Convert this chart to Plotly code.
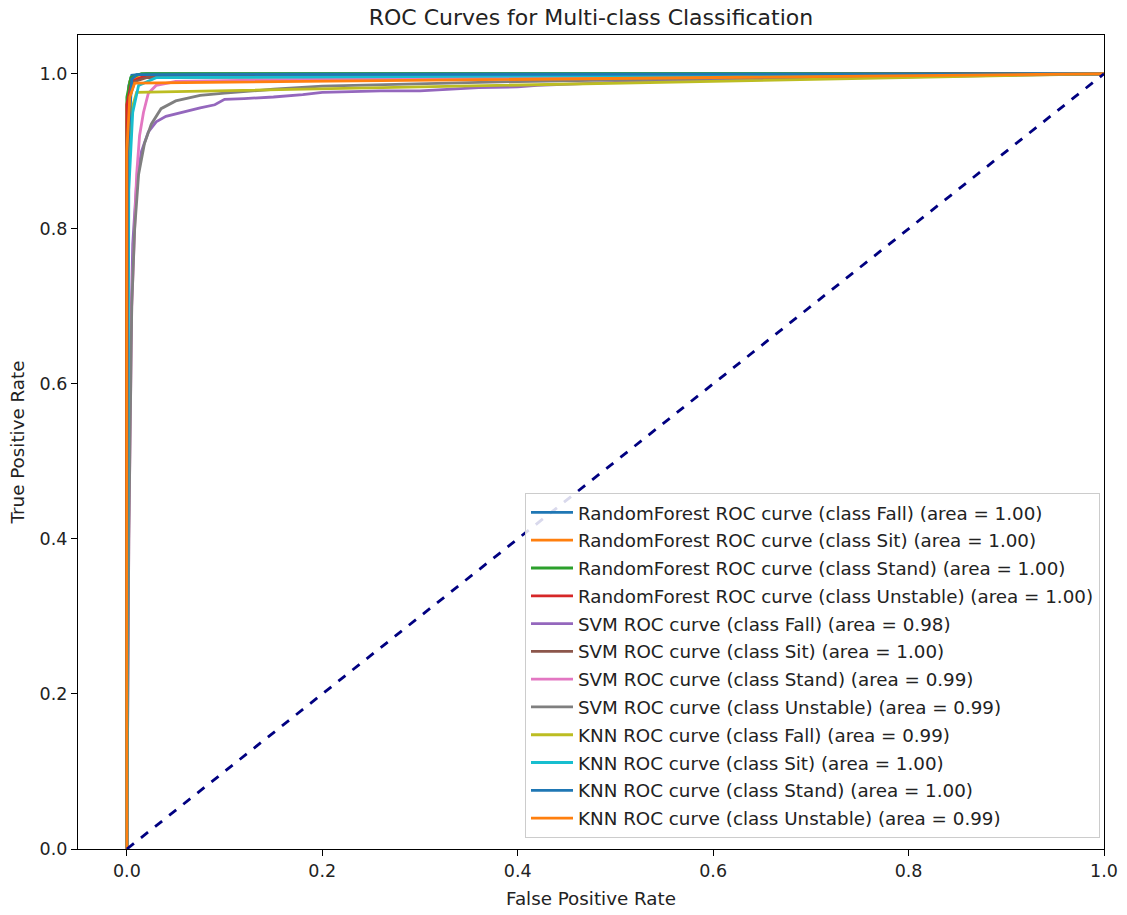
import plotly.graph_objects as go

# ---- data ----
labels = [
    "RandomForest ROC curve (class Fall) (area = 1.00)",
    "RandomForest ROC curve (class Sit) (area = 1.00)",
    "RandomForest ROC curve (class Stand) (area = 1.00)",
    "RandomForest ROC curve (class Unstable) (area = 1.00)",
    "SVM ROC curve (class Fall) (area = 0.98)",
    "SVM ROC curve (class Sit) (area = 1.00)",
    "SVM ROC curve (class Stand) (area = 0.99)",
    "SVM ROC curve (class Unstable) (area = 0.99)",
    "KNN ROC curve (class Fall) (area = 0.99)",
    "KNN ROC curve (class Sit) (area = 1.00)",
    "KNN ROC curve (class Stand) (area = 1.00)",
    "KNN ROC curve (class Unstable) (area = 0.99)",
]

rf_fall_fpr = [0, 0, 0.002, 0.005, 0.02, 1]
rf_fall_tpr = [0, 0.93, 0.985, 0.998, 1.0, 1]
rf_sit_fpr = [0, 0, 0.003, 0.01, 0.43, 1]
rf_sit_tpr = [0, 0.96, 0.99, 0.995, 0.997, 1]
rf_stand_fpr = [0, 0, 0.004, 0.015, 1]
rf_stand_tpr = [0, 0.97, 0.995, 1.0, 1]
rf_unst_fpr = [0, 0, 0.005, 0.02, 1]
rf_unst_tpr = [0, 0.96, 0.99, 0.998, 1]

svm_fall_fpr = [0, 0.001, 0.003, 0.006, 0.01, 0.015, 0.022, 0.03, 0.04, 0.05, 0.06,
                0.075, 0.09, 0.1, 0.12, 0.15, 0.18, 0.2, 0.23, 0.26, 0.3, 0.33, 0.36,
                0.4, 0.42, 0.5, 0.6, 0.8, 1]
svm_fall_tpr = [0, 0.3, 0.6, 0.78, 0.86, 0.9, 0.925, 0.938, 0.945, 0.948, 0.952,
                0.956, 0.96, 0.967, 0.968, 0.97, 0.973, 0.976, 0.977, 0.978, 0.978, 0.98,
                0.982, 0.983, 0.985, 0.989, 0.992, 0.996, 1]
svm_sit_fpr = [0, 0.001, 0.003, 0.008, 0.02, 0.1, 1]
svm_sit_tpr = [0, 0.9, 0.97, 0.99, 0.995, 0.997, 1]
svm_stand_fpr = [0, 0.002, 0.005, 0.008, 0.01, 0.013, 0.017, 0.022, 0.03, 0.05, 0.2, 1]
svm_stand_tpr = [0, 0.4, 0.7, 0.8, 0.87, 0.92, 0.95, 0.975, 0.985, 0.99, 0.993, 1]
svm_unst_fpr = [0, 0.002, 0.005, 0.008, 0.012, 0.018, 0.025, 0.035, 0.05, 0.075, 0.1,
                0.15, 0.2, 0.3, 0.4, 0.6, 1]
svm_unst_tpr = [0, 0.4, 0.7, 0.8, 0.87, 0.91, 0.935, 0.955, 0.965, 0.972, 0.975,
                0.98, 0.984, 0.987, 0.99, 0.994, 1]

knn_fall_fpr = [0, 0.001, 0.004, 0.01, 1]
knn_fall_tpr = [0, 0.85, 0.95, 0.976, 1]
knn_sit_fpr = [0, 0.002, 0.006, 0.012, 0.03, 1]
knn_sit_tpr = [0, 0.85, 0.95, 0.985, 0.995, 1]
knn_stand_fpr = [0, 0.001, 0.005, 0.01, 1]
knn_stand_tpr = [0, 0.9, 0.993, 0.999, 1]
knn_unst_fpr = [0, 0, 0.003, 0.008, 1]
knn_unst_tpr = [0, 0.9, 0.97, 0.988, 1]

fprs = [rf_fall_fpr, rf_sit_fpr, rf_stand_fpr, rf_unst_fpr,
        svm_fall_fpr, svm_sit_fpr, svm_stand_fpr, svm_unst_fpr,
        knn_fall_fpr, knn_sit_fpr, knn_stand_fpr, knn_unst_fpr]
tprs = [rf_fall_tpr, rf_sit_tpr, rf_stand_tpr, rf_unst_tpr,
        svm_fall_tpr, svm_sit_tpr, svm_stand_tpr, svm_unst_tpr,
        knn_fall_tpr, knn_sit_tpr, knn_stand_tpr, knn_unst_tpr]

colors = ["#1f77b4", "#ff7f0e", "#2ca02c", "#d62728", "#9467bd", "#8c564b",
          "#e377c2", "#7f7f7f", "#bcbd22", "#17becf", "#1f77b4", "#ff7f0e"]

diag_x = [0, 1]
diag_y = [0, 1]
tick_vals = [0.0, 0.2, 0.4, 0.6, 0.8, 1.0]

FONT = "DejaVu Sans"
W, H = 1127, 915

fig = go.Figure()
for i, (fx, ty, lab, col) in enumerate(zip(fprs, tprs, labels, colors)):
    fig.add_trace(go.Scatter(x=fx, y=ty, mode="lines", name=lab,
                             legendgroup=f"g{i}",
                             line=dict(color=col, width=2.8)))
fig.add_trace(go.Scatter(x=diag_x, y=diag_y, mode="lines", showlegend=False,
                         line=dict(color="#000080", width=2.8, dash="dash")))

axis_common = dict(
    showline=True, mirror=True, linecolor="black", linewidth=1.2,
    ticks="outside", ticklen=6, tickwidth=1.2, tickcolor="black",
    showgrid=False, zeroline=False, automargin=False,
    tickfont=dict(family=FONT, size=17.5, color="#222222"),
    tickvals=tick_vals, tickformat=".1f",
)

fig.update_layout(
    width=W, height=H,
    paper_bgcolor="white", plot_bgcolor="white",
    margin=dict(l=78, r=23, t=35, b=66),
    title=dict(text="ROC Curves for Multi-class Classification",
               x=0.5, xref="paper", xanchor="center",
               y=1 - 17 / H, yanchor="middle",
               font=dict(family=FONT, size=22, color="#222222")),
    xaxis=dict(range=[-0.05, 1.0],
               title=dict(text="False Positive Rate", standoff=12,
                          font=dict(family=FONT, size=18.3, color="#222222")),
               **axis_common),
    yaxis=dict(range=[0, 1.05],
               title=dict(text="True Positive Rate", standoff=10,
                          font=dict(family=FONT, size=18.3, color="#222222")),
               **axis_common),
    legend=dict(x=0.9961, y=0.0135, xanchor="right", yanchor="bottom",
                bgcolor="rgba(255,255,255,0.85)", bordercolor="#cccccc",
                borderwidth=1, tracegroupgap=1, itemwidth=42,
                font=dict(family=FONT, size=18.3, color="#222222")),
    showlegend=True,
)

fig.write_html("out.html",
               config={"displayModeBar": False},
               post_script="document.body.style.margin='0px';")
